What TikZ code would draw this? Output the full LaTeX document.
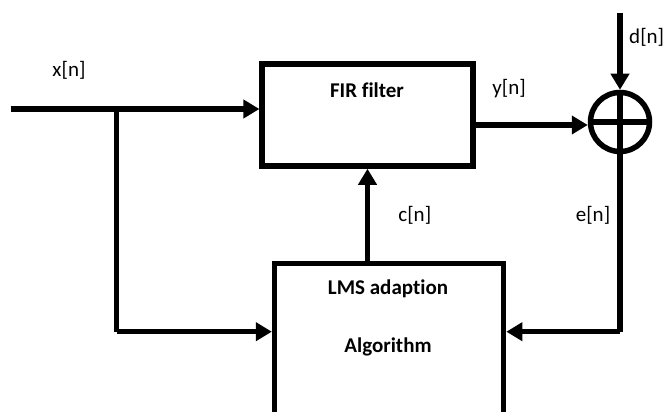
\documentclass[tikz,border=0pt]{standalone}
\usepackage{fontspec}
\setmainfont{Carlito}[Ligatures=NoCommon]
\usetikzlibrary{arrows.meta}
\tikzset{
  wire/.style={line width=5.5pt, line join=miter, -{Triangle[length=16pt,width=18pt]}},
  plain/.style={line width=5.5pt, line join=miter},
  blockbox/.style={draw, line width=5.5pt, rectangle, inner sep=0pt},
  boxtext/.style={font=\fontsize{21}{25}\selectfont\bfseries, inner sep=0pt},
  sig/.style={font=\fontsize{21}{25}\selectfont, inner sep=0pt}
}
\begin{document}
\begin{tikzpicture}[x=1pt,y=-1pt]
\useasboundingbox (0,0) rectangle (665,412);
\clip (0,0) rectangle (665,412);
% blocks
\node[blockbox, minimum width=210.7pt, minimum height=102pt] (fir) at (367.5,115) {};
\node[boxtext] (firtxt) at (367,90.5) {FIR filter};
\node[blockbox, minimum width=229pt, minimum height=151.5pt] (lms) at (389.1,339.25) {};
\node[boxtext] (lmstxt1) at (388,289) {LMS adaption};
\node[boxtext] (lmstxt2) at (388,346.5) {Algorithm};
\node[draw, circle, line width=5.5pt, inner sep=0pt, minimum size=59pt] (sum) at (620,122) {};
\draw[plain] (sum.west) -- (sum.east);
\draw[plain] (sum.north) -- (sum.south);
% coordinates
\coordinate (in) at (10.6,109);
\coordinate (br) at (116.6,109);
\coordinate (brdown) at (116.6,331.7);
\coordinate (dtop) at (620,12.7);
\coordinate (edown) at (620,331.7);
% connectors
\draw[wire] (in) -- (in -| fir.west);
\draw[plain] (br) -- (brdown);
\draw[wire] (brdown) -- (brdown -| lms.west);
\draw[wire] (fir.south |- lms.north) -- (fir.south);
\draw[wire] (fir.east |- 0,125) -- (sum.west |- 0,125);
\draw[wire] (dtop) -- (sum.north);
\draw[plain] (sum.south) -- (edown);
\draw[wire] (edown) -- (edown -| lms.east);
% labels
\node[sig] (lx) at (69,70) {x[n]};
\node[sig] (ly) at (509,89) {y[n]};
\node[sig] (lc) at (414.8,215.7) {c[n]};
\node[sig] (le) at (593,215.7) {e[n]};
\node[sig] (ld) at (646.7,37.3) {d[n]};
\end{tikzpicture}
\end{document}
